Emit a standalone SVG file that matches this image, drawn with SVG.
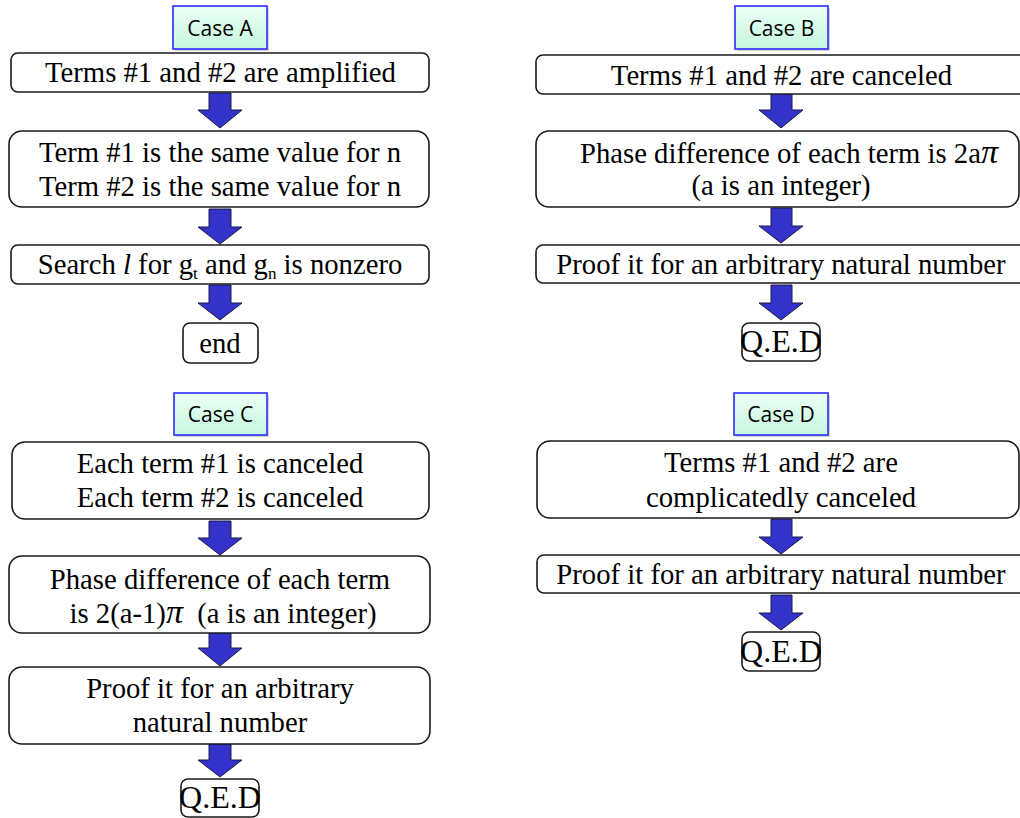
<svg xmlns="http://www.w3.org/2000/svg" width="1020" height="818" viewBox="0 0 1020 818">
<defs>
<linearGradient id="mint" x1="0" y1="0" x2="0" y2="1">
<stop offset="0" stop-color="#ecfff6"/>
<stop offset="1" stop-color="#c6f7df"/>
</linearGradient>
</defs>
<style>
.box{fill:#ffffff;stroke:#1a1a1a;stroke-width:1.6}
.lbl{fill:url(#mint);stroke:#2b2bff;stroke-width:1.6}
.shd{fill:#000;opacity:0.18}
.t{font-family:"Liberation Serif","Times New Roman",serif;font-size:28.7px;fill:#000;text-anchor:middle}
.ts{text-anchor:start}
.q{font-size:31px}
.c{font-family:"Open Sans","Noto Sans",sans-serif;font-size:21px;fill:#000;text-anchor:middle}
.arr{fill:#3333cc;stroke:#1a1a40;stroke-width:1}
.pi{font-style:italic;font-size:34px}
.sub{font-size:17px}
</style>
<rect width="1020" height="818" fill="#ffffff"/>

<g id="connectors">
<polygon class="arr" points="209,93 231,93 231,110 242,110 220,128 198,110 209,110"/>
<polygon class="arr" points="209,209 231,209 231,227 242,227 220,244 198,227 209,227"/>
<polygon class="arr" points="209,285 231,285 231,303 242,303 220,320 198,303 209,303"/>
<polygon class="arr" points="771,93 792,93 792,110 803,110 781,128 759,110 771,110"/>
<polygon class="arr" points="771,208 792,208 792,226 803,226 781,243 759,226 771,226"/>
<polygon class="arr" points="771,285 792,285 792,303 803,303 781,320 759,303 771,303"/>
<polygon class="arr" points="209,521 231,521 231,538 242,538 220,555 198,538 209,538"/>
<polygon class="arr" points="209,632 231,632 231,648 242,648 220,666 198,648 209,648"/>
<polygon class="arr" points="209,744 231,744 231,760 242,760 220,777 198,760 209,760"/>
<polygon class="arr" points="771,519 792,519 792,537 803,537 781,554 759,537 771,537"/>
<polygon class="arr" points="771,595 792,595 792,613 803,613 781,630 759,613 771,613"/>
</g>

<g id="caseA">
<rect class="shd" x="175" y="8" width="94" height="43"/>
<rect class="lbl" x="173" y="6" width="94" height="43"/>
<text class="c" x="220" y="36">Case A</text>
</g>
<g id="a1">
<rect class="box" x="11" y="53" width="418" height="39" rx="7"/>
<text class="t" x="220.5" y="82">Terms #1 and #2 are amplified</text>
</g>
<g id="a2">
<rect class="box" x="9" y="131" width="420" height="76" rx="13"/>
<text class="t" x="220" y="162">Term #1 is the same value for n</text>
<text class="t" x="220" y="196">Term #2 is the same value for n</text>
</g>
<g id="a3">
<rect class="box" x="11" y="245" width="418" height="39" rx="7"/>
<text class="t" x="220" y="274">Search <tspan font-style="italic">l</tspan> for g<tspan class="sub" dy="5">t</tspan><tspan dy="-5"> and g</tspan><tspan class="sub" dy="5">n</tspan><tspan dy="-5"> is nonzero</tspan></text>
</g>
<g id="aend">
<rect class="box" x="183" y="323" width="75" height="40" rx="7"/>
<text class="t" x="220" y="353">end</text>
</g>

<g id="caseB">
<rect class="shd" x="737" y="8" width="93" height="43"/>
<rect class="lbl" x="735" y="6" width="93" height="43"/>
<text class="c" x="781.5" y="36">Case B</text>
</g>
<g id="b1">
<rect class="box" x="536" y="55" width="500" height="39" rx="7"/>
<text class="t" x="781.5" y="85">Terms #1 and #2 are canceled</text>
</g>
<g id="b2">
<rect class="box" x="536" y="131" width="483" height="76" rx="13"/>
<text class="t ts" x="580" y="163">Phase difference of each term is 2a<tspan class="pi">π</tspan></text>
<text class="t" x="781" y="195">(a is an integer)</text>
</g>
<g id="b3">
<rect class="box" x="536" y="245" width="500" height="38" rx="7"/>
<text class="t" x="781" y="274">Proof it for an arbitrary natural number</text>
</g>
<g id="bqed">
<rect class="box" x="742" y="323" width="78" height="38" rx="7"/>
<text class="t q" x="781" y="352" textLength="82" lengthAdjust="spacingAndGlyphs">Q.E.D</text>
</g>

<g id="caseC">
<rect class="shd" x="176" y="395" width="93" height="42"/>
<rect class="lbl" x="174" y="393" width="93" height="42"/>
<text class="c" x="220.5" y="422">Case C</text>
</g>
<g id="c1">
<rect class="box" x="12" y="442" width="417" height="77" rx="13"/>
<text class="t" x="220" y="473">Each term #1 is canceled</text>
<text class="t" x="220" y="507">Each term #2 is canceled</text>
</g>
<g id="c2">
<rect class="box" x="9" y="556" width="421" height="77" rx="13"/>
<text class="t" x="220" y="589">Phase difference of each term</text>
<text class="t" x="223" y="623" xml:space="preserve">is 2(a-1)<tspan class="pi">π</tspan>  (a is an integer)</text>
</g>
<g id="c3">
<rect class="box" x="9" y="667" width="421" height="77" rx="13"/>
<text class="t" x="220" y="698">Proof it for an arbitrary</text>
<text class="t" x="220" y="732">natural number</text>
</g>
<g id="cqed">
<rect class="box" x="181" y="779" width="78" height="38" rx="7"/>
<text class="t q" x="220" y="808" textLength="82" lengthAdjust="spacingAndGlyphs">Q.E.D</text>
</g>

<g id="caseD">
<rect class="shd" x="736" y="395" width="94" height="42"/>
<rect class="lbl" x="734" y="393" width="94" height="42"/>
<text class="c" x="781" y="422">Case D</text>
</g>
<g id="d1">
<rect class="box" x="537" y="441" width="482" height="77" rx="13"/>
<text class="t" x="781" y="472">Terms #1 and #2 are</text>
<text class="t" x="781" y="507">complicatedly canceled</text>
</g>
<g id="d2">
<rect class="box" x="537" y="555" width="500" height="38" rx="7"/>
<text class="t" x="781" y="584">Proof it for an arbitrary natural number</text>
</g>
<g id="dqed">
<rect class="box" x="742" y="632" width="78" height="39" rx="7"/>
<text class="t q" x="781" y="662" textLength="82" lengthAdjust="spacingAndGlyphs">Q.E.D</text>
</g>
</svg>
